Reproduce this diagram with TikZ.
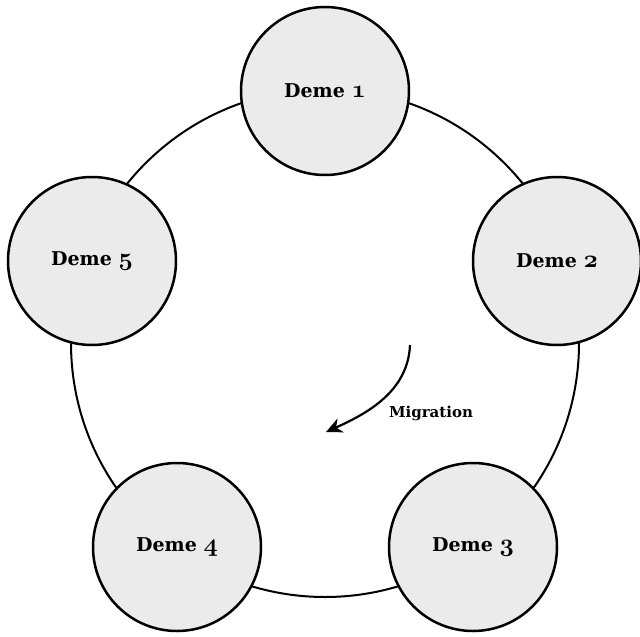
\documentclass[tikz,border=0pt]{standalone}
\usepackage{fontspec}
\setmainfont{DejaVu Serif}
\usetikzlibrary{arrows.meta}
\definecolor{demefill}{RGB}{235,235,235}
\newcommand\demenum[1]{{\fontencoding{OML}\fontfamily{cmm}\fontseries{b}\fontshape{it}\fontsize{24}{24}\selectfont #1}}
\newcommand\demelabel[1]{\raisebox{-2pt}{Deme \demenum{#1}}}
\tikzset{
  demenode/.style={circle, draw=black, line width=2.5pt, fill=demefill,
    minimum size=168pt, inner sep=0pt,
    font=\fontsize{19}{23}\selectfont\bfseries},
  ring/.style={draw=black, line width=2pt},
  migr/.style={draw=black, line width=2.2pt, -{Stealth[length=16pt,width=15pt,inset=5pt]}},
  migrlabel/.style={font=\fontsize{15}{18}\selectfont\bfseries}
}
\begin{document}
\begin{tikzpicture}[x=1pt,y=-1pt]
\useasboundingbox (0,0) rectangle (640,637);
\coordinate (c) at (325,343);
\draw[ring] (c) circle[radius=254pt];
\node[demenode] (d1) at (325,91) {\demelabel{1}};
\node[demenode] (d2) at (557,261) {\demelabel{2}};
\node[demenode] (d3) at (473,547) {\demelabel{3}};
\node[demenode] (d4) at (177,547) {\demelabel{4}};
\node[demenode] (d5) at (92,261) {\demelabel{5}};
\coordinate (ms) at (410,345);
\coordinate (me) at (326,432);
\draw[migr] (ms) .. controls (408,392) and (366,414) .. (me);
\node[migrlabel] (ml) at (431,413) {Migration};
\end{tikzpicture}
\end{document}
